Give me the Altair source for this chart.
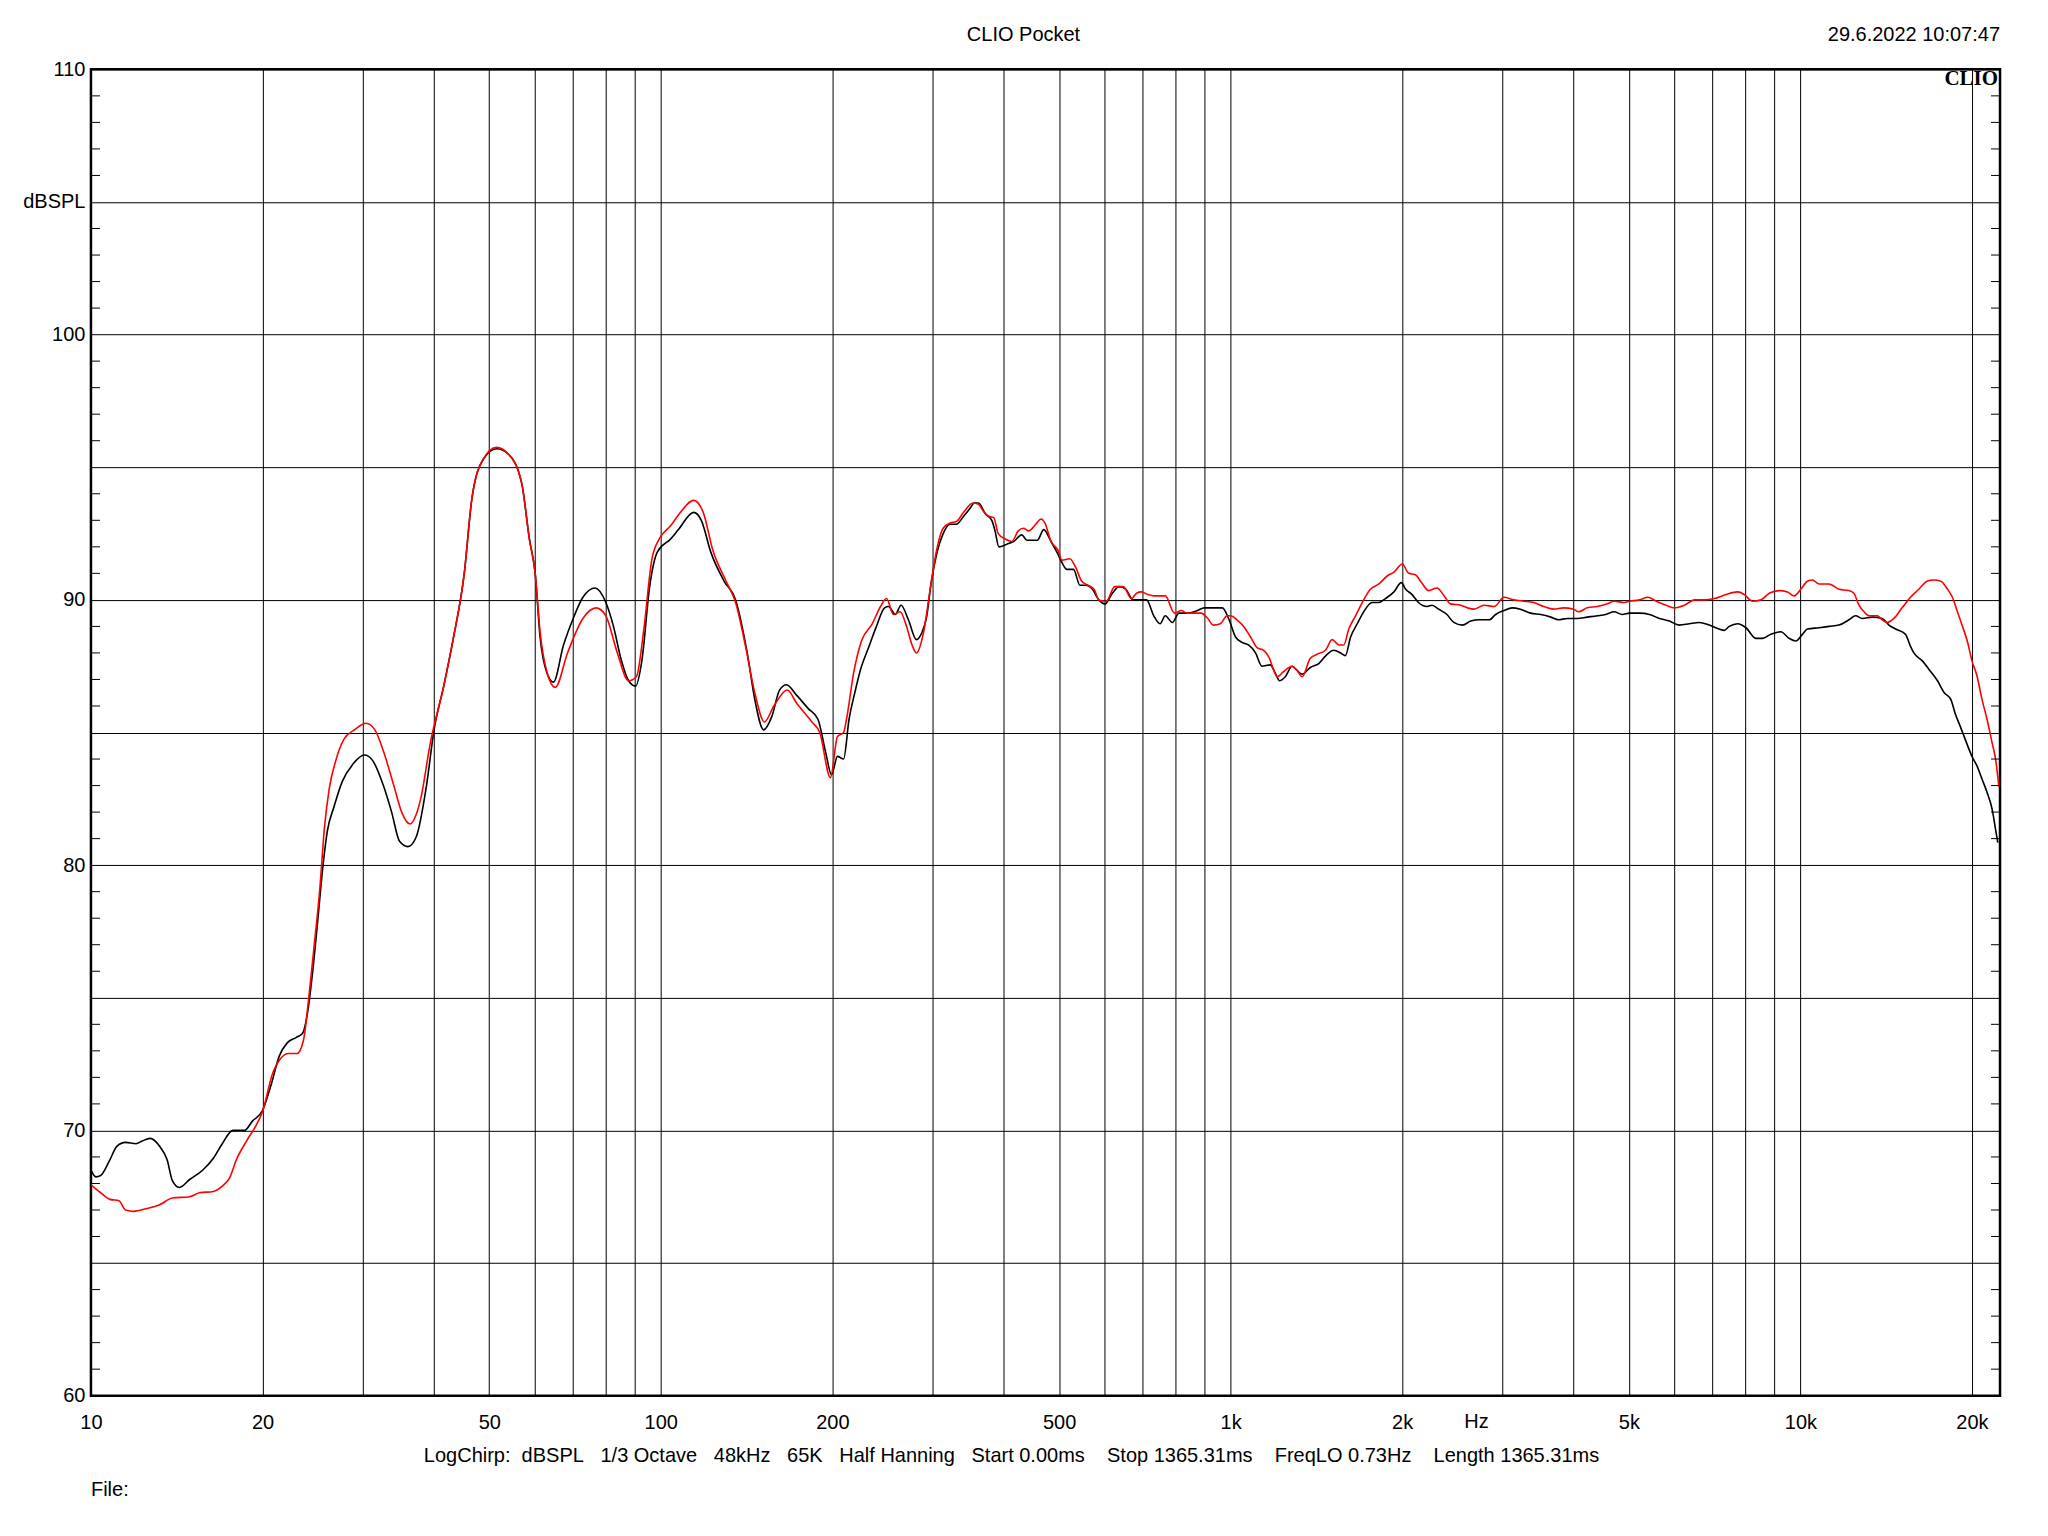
import altair as alt
import pandas as pd

# ---------------- data ----------------
black_freq = [10.0, 10.2, 10.4, 10.8, 11.1, 11.5, 12.0, 12.3, 12.7, 13.2, 13.6, 13.9, 14.3, 14.9, 15.7, 16.4, 17.0, 17.75, 18.6, 19.2,
              20.0, 20.7, 21.4, 22.1, 22.9, 23.5, 24.0, 24.5, 25.0, 25.5, 26.0, 26.7, 27.6, 28.8, 30.2, 31.2, 32.6, 33.7, 34.8, 36.0,
              37.2, 38.8, 40.0, 41.6, 43.2, 45.2, 46.6, 48.8, 51.5, 54.0, 57.0, 58.8, 60.2, 61.4, 63.1, 64.8, 67.5, 70.2, 73.0, 76.7,
              80.1, 82.6, 85.2, 87.8, 90.3, 92.7, 95.6, 98.6, 104.1, 107.4, 114.2, 117.8, 122.4, 129.2, 135.3, 141.8, 146.2, 151.5, 156.6, 161.6,
              166.2, 173.2, 181.5, 188.7, 194.7, 199.4, 204.2, 209.3, 214, 219, 224, 232, 239, 247, 251, 258, 264, 272, 281, 287,
              293, 298, 305, 313, 322, 330, 340, 349, 355, 361, 371, 381, 386, 392, 405, 416, 430, 439, 458, 470,
              484, 497, 506, 516, 530, 544, 557, 572, 587, 602, 620, 638, 655, 674, 692, 712, 733, 752, 768, 790,
              812, 840, 875, 899, 935, 967, 994, 1020, 1047, 1075, 1106, 1135, 1174, 1197, 1219, 1247, 1282, 1307, 1335, 1380,
              1428, 1477, 1517, 1560, 1590, 1624, 1668, 1712, 1771, 1820, 1870, 1935, 1993, 2029, 2082, 2136, 2212, 2257, 2318, 2397,
              2464, 2551, 2639, 2730, 2843, 2918, 3018, 3120, 3225, 3362, 3504, 3648, 3760, 3900, 4058, 4225, 4402, 4553, 4708, 4868,
              5014, 5220, 5434, 5657, 5889, 6131, 6382, 6644, 6917, 7200, 7346, 7500, 7760, 8025, 8355, 8580, 8872, 9237, 9552, 9814,
              10081, 10287, 10783, 11226, 11686, 12166, 12498, 12839, 13367, 13914, 14300, 14690, 15290, 15600, 15815, 16363, 16920, 17400, 17880, 18360,
              18700, 19060, 19455, 20000, 20400, 20825, 21255, 21700, 22000, 22200]
black_db = [68.5, 68.25, 68.3, 68.9, 69.4, 69.55, 69.5, 69.6, 69.7, 69.4, 68.9, 68.1, 67.85, 68.15, 68.5, 68.95, 69.5, 70.0, 70.0, 70.35,
            70.75, 71.7, 72.8, 73.3, 73.5, 73.65, 74.45, 76.0, 77.9, 79.85, 81.3, 82.2, 83.15, 83.8, 84.15, 83.95, 83.0, 82.0, 80.9, 80.7,
            81.05, 83.0, 85.1, 86.75, 88.5, 91.0, 93.8, 95.3, 95.7, 95.5, 94.4, 92.3, 91.0, 88.6, 87.25, 86.9, 88.3, 89.3, 90.1, 90.45,
            89.9, 89.0, 87.75, 86.95, 86.75, 87.75, 90.5, 91.8, 92.3, 92.65, 93.3, 93.0, 91.8, 90.7, 90.0, 88.0, 86.25, 85.1, 85.6, 86.6,
            86.8, 86.4, 85.9, 85.5, 84.25, 83.4, 84.1, 84.0, 85.5, 86.5, 87.35, 88.25, 89.0, 89.7, 89.75, 89.45, 89.8, 89.25, 88.5, 88.75,
            89.4, 90.6, 91.75, 92.5, 92.85, 92.85, 93.15, 93.45, 93.65, 93.65, 93.25, 93.0, 92.6, 92.0, 92.1, 92.2, 92.45, 92.25, 92.25, 92.65,
            92.2, 91.75, 91.4, 91.15, 91.15, 90.55, 90.55, 90.4, 90.0, 89.85, 90.25, 90.5, 90.4, 90.0, 90.0, 90.0, 89.4, 89.1, 89.4, 89.15,
            89.5, 89.5, 89.6, 89.7, 89.7, 89.7, 89.25, 88.6, 88.4, 88.3, 88.0, 87.5, 87.55, 87.25, 86.95, 87.1, 87.5, 87.35, 87.2, 87.45,
            87.6, 87.95, 88.1, 88.0, 87.9, 88.6, 89.1, 89.55, 89.9, 89.9, 90.05, 90.3, 90.65, 90.4, 90.2, 89.9, 89.75, 89.8, 89.65, 89.45,
            89.15, 89.05, 89.2, 89.25, 89.25, 89.45, 89.6, 89.7, 89.65, 89.5, 89.45, 89.35, 89.25, 89.3, 89.3, 89.35, 89.4, 89.45, 89.55, 89.45,
            89.5, 89.5, 89.45, 89.3, 89.2, 89.05, 89.1, 89.15, 89.05, 88.9, 88.85, 89.0, 89.1, 88.95, 88.55, 88.55, 88.7, 88.8, 88.55, 88.45,
            88.7, 88.9, 88.95, 89.0, 89.05, 89.25, 89.4, 89.3, 89.35, 89.3, 89.05, 88.9, 88.7, 88.25, 88.0, 87.7, 87.3, 86.95, 86.5, 86.25,
            85.7, 85.25, 84.75, 84.1, 83.75, 83.25, 82.75, 82.1, 81.35, 80.85]

red_freq = [10.0, 10.4, 10.8, 11.2, 11.5, 11.9, 12.5, 13.2, 13.9, 14.9, 15.5, 16.4, 17.0, 17.5, 18.0, 18.75, 19.5, 20.0, 20.8, 21.5,
            22.2, 23.0, 23.6, 24.1, 24.6, 25.2, 25.7, 26.2, 26.9, 27.8, 29.0, 30.4, 31.5, 32.6, 34.0, 35.1, 36.3, 37.2, 37.9, 39.4,
            41.6, 43.2, 45.2, 46.6, 48.8, 51.5, 54.0, 57.0, 58.8, 60.2, 61.4, 63.1, 65.3, 68.6, 73.0, 77.0, 80.1, 83.9, 87.8, 90.6,
            93.4, 96.4, 99.4, 104.1, 107.4, 114.2, 118.7, 123.3, 130.2, 135.3, 140.7, 146.2, 152.0, 157.9, 166.7, 173.2, 184.2, 190.1, 198.5, 204.2,
            209.3, 212, 218, 225, 235, 243, 249, 256, 263, 270, 276, 281, 289, 297, 305, 313, 322, 330, 340, 353,
            361, 368, 376, 384, 391, 402, 413, 424, 433, 442, 455, 465, 472, 484, 497, 506, 522, 534, 548, 562,
            576, 587, 605, 626, 648, 670, 684, 697, 716, 733, 752, 768, 797, 819, 840, 887, 912, 932, 959, 986,
            1000, 1026, 1054, 1084, 1113, 1143, 1170, 1190, 1208, 1239, 1282, 1307, 1335, 1380, 1418, 1467, 1507, 1549, 1580, 1612,
            1657, 1702, 1759, 1820, 1883, 1935, 2001, 2054, 2109, 2164, 2226, 2302, 2370, 2430, 2533, 2603, 2674, 2786, 2902, 3018,
            3141, 3270, 3404, 3544, 3690, 3841, 3999, 4077, 4225, 4402, 4582, 4708, 4903, 5014, 5220, 5396, 5584, 5810, 6010, 6258,
            6518, 6784, 7060, 7400, 7760, 7970, 8242, 8525, 8816, 9175, 9488, 9748, 10013, 10287, 10496, 10783, 11226, 11686, 12166, 12410,
            12667, 12930, 13200, 13637, 13914, 14200, 14590, 15080, 15600, 16130, 16680, 17150, 17640, 18120, 18480, 18860, 19250, 19650, 20000, 20400,
            20825, 21255, 21700, 22000, 22300]
red_db = [67.95, 67.65, 67.4, 67.35, 67.0, 66.95, 67.05, 67.2, 67.45, 67.5, 67.65, 67.7, 67.9, 68.2, 68.9, 69.6, 70.2, 70.7, 72.1, 72.7,
          72.9, 72.9, 73.4, 74.95, 76.8, 79.05, 81.45, 82.9, 83.95, 84.75, 85.1, 85.35, 85.1, 84.3, 83.0, 82.0, 81.55, 81.9, 82.5, 84.6,
          86.75, 88.5, 91.0, 93.8, 95.3, 95.75, 95.5, 94.4, 92.3, 91.0, 88.8, 87.3, 86.7, 88.0, 89.3, 89.7, 89.4, 88.0, 86.95, 87.1,
          88.9, 91.5, 92.3, 92.8, 93.2, 93.75, 93.3, 91.9, 90.7, 89.9, 88.3, 86.5, 85.4, 86.0, 86.6, 86.1, 85.4, 85.0, 83.3, 84.85,
          85.0, 85.55, 87.25, 88.45, 89.1, 89.75, 90.05, 89.45, 89.55, 89.0, 88.3, 88.0, 88.75, 90.4, 91.9, 92.7, 92.9, 92.95, 93.3, 93.65,
          93.6, 93.35, 93.15, 93.1, 92.5, 92.3, 92.2, 92.6, 92.7, 92.6, 92.85, 93.05, 92.9, 92.2, 91.9, 91.5, 91.55, 91.25, 90.7, 90.55,
          90.4, 90.0, 89.95, 90.5, 90.5, 90.05, 90.25, 90.3, 90.2, 90.15, 90.15, 90.15, 89.5, 89.6, 89.5, 89.5, 89.3, 89.05, 89.1, 89.4,
          89.4, 89.25, 89.0, 88.6, 88.2, 88.1, 87.8, 87.35, 87.1, 87.3, 87.5, 87.35, 87.1, 87.8, 87.95, 88.1, 88.5, 88.3, 88.3, 88.9,
          89.4, 89.9, 90.4, 90.6, 90.9, 91.05, 91.35, 91.0, 90.95, 90.65, 90.35, 90.45, 90.15, 89.85, 89.8, 89.7, 89.65, 89.8, 89.75, 90.1,
          90.0, 89.95, 89.9, 89.75, 89.65, 89.7, 89.65, 89.55, 89.7, 89.75, 89.85, 89.95, 89.9, 89.95, 90.0, 90.1, 89.95, 89.8, 89.7, 89.8,
          90.0, 90.0, 90.05, 90.2, 90.3, 90.2, 89.95, 90.0, 90.25, 90.35, 90.3, 90.15, 90.4, 90.7, 90.75, 90.6, 90.6, 90.4, 90.35, 90.25,
          89.8, 89.55, 89.4, 89.4, 89.25, 89.15, 89.3, 89.7, 90.1, 90.4, 90.7, 90.75, 90.7, 90.4, 90.1, 89.55, 89.0, 88.4, 87.7, 87.15,
          86.25, 85.5, 84.6, 84.0, 82.95]

x_grid = [10, 20, 30, 40, 50, 60, 70, 80, 90, 100, 200, 300, 400, 500, 600, 700, 800, 900,
          1000, 2000, 3000, 4000, 5000, 6000, 7000, 8000, 9000, 10000, 20000]
x_label_values = [10, 20, 50, 100, 200, 500, 1000, 2000, 5000, 10000, 20000]
x_label_texts = ["10", "20", "50", "100", "200", "500", "1k", "2k", "5k", "10k", "20k"]
y_grid = [60, 65, 70, 75, 80, 85, 90, 95, 100, 105, 110]
y_label_values = [60, 70, 80, 90, 100, 105, 110]
y_label_texts = ["60", "70", "80", "90", "100", "dBSPL", "110"]
minor_db = [v for v in range(61, 110) if v % 5 != 0]

title_text = "CLIO Pocket"
date_text = "29.6.2022 10:07:47"
logo_text = "CLIO"
unit_text = "Hz"
unit_freq = 2700
NB = "\u00a0"
footer_parts = ["LogChirp:", "dBSPL", "1/3 Octave", "48kHz", "65K", "Half Hanning", "Start 0.00ms",
                "Stop 1365.31ms", "FreqLO 0.73Hz", "Length 1365.31ms"]
footer_gaps = [2, 3, 3, 3, 3, 3, 4, 4, 4]
file_text = "File:"

# ---------------- chart ----------------
W, H = 1910, 1327
FONT = "Liberation Sans"
FS = 20

footer = footer_parts[0]
for g, p in zip(footer_gaps, footer_parts[1:]):
    footer += NB * g + p

def build_expr(values, texts, fallback="''"):
    expr = fallback
    for v, t in zip(values, texts):
        expr = f"datum.value == {v} ? '{t}' : ({expr})"
    return expr

x_scale = alt.Scale(type="log", domain=[10, 22400], nice=False)
y_scale = alt.Scale(domain=[60, 110], nice=False, zero=False)

x_axis = alt.Axis(values=x_grid, grid=True, gridColor="black", gridOpacity=1, gridWidth=1,
                  ticks=False, domain=False, labelExpr=build_expr(x_label_values, x_label_texts),
                  labelFont=FONT, labelFontSize=FS, labelColor="black", labelPadding=17,
                  labelOverlap=False, labelFlush=False, labelBound=False, title=None)
y_axis = alt.Axis(values=y_grid, grid=True, gridColor="black", gridOpacity=1, gridWidth=1,
                  ticks=False, domain=False, labelExpr=build_expr(y_label_values, y_label_texts),
                  labelFont=FONT, labelFontSize=FS, labelColor="black", labelPadding=6,
                  labelOverlap=False, labelFlush=False, labelBound=False, title=None)

df_b = pd.DataFrame({"f": black_freq, "db": black_db})
df_r = pd.DataFrame({"f": red_freq, "db": red_db})
df_minor = pd.DataFrame({"db": minor_db})

X = alt.X("f:Q", scale=x_scale, axis=x_axis)
Y = alt.Y("db:Q", scale=y_scale, axis=y_axis)

black_line = alt.Chart(df_b).mark_line(color="black", strokeWidth=1.6, interpolate="monotone", clip=True).encode(x=X, y=Y)
red_line = alt.Chart(df_r).mark_line(color="#ff0000", strokeWidth=1.6, interpolate="monotone", clip=True).encode(x=X, y=Y)
minor_left = alt.Chart(df_minor).mark_rule(color="black", strokeWidth=1).encode(
    y=Y, x=alt.value(0), x2=alt.value(9))
minor_right = alt.Chart(df_minor).mark_rule(color="black", strokeWidth=1).encode(
    y=Y, x=alt.value(W - 9), x2=alt.value(W))

def label(text, x, y, align="center", font=FONT, size=FS, weight="normal"):
    return alt.Chart(pd.DataFrame({"t": [text]})).mark_text(
        align=align, baseline="middle", font=font, fontSize=size, fontWeight=weight, color="black"
    ).encode(text="t:N", x=alt.value(x), y=alt.value(y))

title_mark = label(title_text, 933, -34)
date_mark = label(date_text, W, -34, align="right")
logo_mark = label(logo_text, W - 2, 10, align="right", font="Liberation Serif", size=21, weight="bold")
footer_mark = label(footer, 921, 1387)
file_mark = label(file_text, 0, 1421, align="left")
unit_mark = alt.Chart(pd.DataFrame({"f": [unit_freq], "t": [unit_text]})).mark_text(
    align="center", baseline="middle", font=FONT, fontSize=FS, color="black"
).encode(x=X, y=alt.value(H + 26), text="t:N")

chart = alt.layer(
    black_line, red_line, minor_left, minor_right,
    title_mark, date_mark, logo_mark, footer_mark, file_mark, unit_mark,
).properties(
    width=W, height=H,
    padding={"left": 83, "top": 61, "right": 40, "bottom": 130},
    autosize=alt.AutoSizeParams(type="none"),
).configure(background="white").configure_view(stroke="black", strokeWidth=2.5)

chart.save("out.html", embed_options={"renderer": "svg", "actions": False})
